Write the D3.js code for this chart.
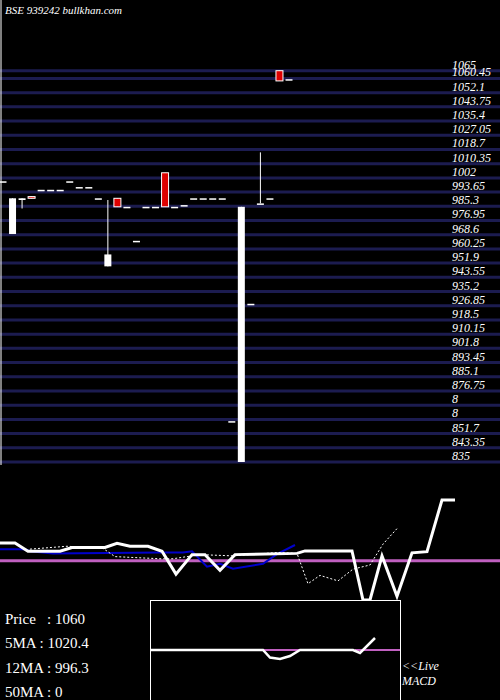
<!DOCTYPE html><html><head><meta charset="utf-8">
<script src="https://cdn.jsdelivr.net/npm/d3@7"></script>
<style>body{margin:0;background:#000}svg{display:block}</style></head><body>
<script>
const tickLabels=["1065","1060.45","1052.1","1043.75","1035.4","1027.05","1018.7","1010.35","1002","993.65","985.3","976.95","968.6","960.25","951.9","943.55","935.2","926.85","918.5","910.15","901.8","893.45","885.1","876.75","8","8","851.7","843.35","835"];
const tickValues=[1065,1060.45,1052.1,1043.75,1035.4,1027.05,1018.7,1010.35,1002,993.65,985.3,976.95,968.6,960.25,951.9,943.55,935.2,926.85,918.5,910.15,901.8,893.45,885.1,876.75,868.4,860.05,851.7,843.35,835];
const opens =[1000,990,990,990,995,995,995,1000,996.6,996.6,990,957,985,985,965,985,985,985,985,986,990,990,990,990,859,985,928,987,990,1059,1060];
const highs =[1000,990,990,991,995,995,995,1000,996.6,996.6,990,989,990,985,965,985,985,1005,985,986,990,990,990,990,859,985,928,1017,990,1065,1060];
const lows  =[1000,969,984,990,995,995,995,1000,996.6,996.6,990,950,985,985,965,985,985,985,985,986,990,990,990,990,859,835,928,987,990,1059,1060];
const closes=[1000,969,989,991,995,995,995,1000,996.6,996.6,990,950,990,985,965,985,985,1005,985,986,990,990,990,990,859,835,928,987,990,1065,1060];
const priceLine=[[0,45.7],[15,45.7],[28,39],[60,39],[72,42],[105,42],[117,45.3],[130,43],[148,43],[162,39],[176,20.7],[192,36.3],[205,36.3],[220,23.7],[235,36.3],[297,37.3],[305,39.3],[352,39.3],[363,0],[370,0],[382,35.3],[397,3],[412,37.7],[427,38.7],[442,80],[455,80]];
const blueLine=[[0,40.7],[25,40.7],[30,39],[53,37.3],[160,38],[183,38],[192,39],[207,26.7],[220,29],[233,25],[263,29],[277,36.7],[295,44]];
const dotLine=[[30,40.7],[67,43],[103,41.3],[115,34.7],[160,33],[173,33],[200,36.3],[233,35.3],[277,38],[297,37.3],[308,13],[320,19.7],[338,15.3],[353,24.7],[370,28],[383,44.7],[398,58]];
const macdLine=[[150,0],[263,0],[270,-2.5],[280,-3],[290,-2],[300,0],[353,0],[360,-1],[375,4]];
const summaryLabels=["Price   : 1060","5MA : 1020.4","12MA : 996.3","50MA : 0"];

const W=500,H=700;
const svg=d3.select("body").append("svg").attr("width",W).attr("height",H).style("background","#000");
const y=d3.scaleLinear().domain([835,1065]).range([462,70.7]);
const x=d3.scaleLinear().domain([0,30]).range([3,289]);
svg.append("g").selectAll("line").data(tickValues).join("line")
 .attr("x1",0).attr("x2",W).attr("y1",d=>y(d)).attr("y2",d=>y(d)).attr("stroke","#1c1c50").attr("stroke-width",3);
svg.append("g").selectAll("text").data(tickLabels).join("text")
 .attr("x",452).attr("y",(d,i)=>y(tickValues[i])-2).text(d=>d)
 .attr("fill","#fff").attr("font-family","Liberation Serif").attr("font-style","italic").attr("font-size",12);
svg.append("line").attr("x1",1).attr("x2",1).attr("y1",0).attr("y2",465).attr("stroke","#fff");
svg.append("text").attr("x",5).attr("y",14).text("BSE 939242 bullkhan.com").attr("fill","#fff")
 .attr("font-family","Liberation Serif").attr("font-style","italic").attr("font-size",11);
const idx=d3.range(opens.length);
const g=svg.append("g");
g.selectAll("line.w").data(idx).join("line").attr("x1",i=>x(i)).attr("x2",i=>x(i))
 .attr("y1",i=>y(highs[i])).attr("y2",i=>y(lows[i])).attr("stroke","#fff");
g.selectAll("rect").data(idx).join("rect")
 .attr("x",i=>x(i)-3.5).attr("width",7)
 .attr("y",i=>y(Math.max(opens[i],closes[i])))
 .attr("height",i=>Math.max(1.5,Math.abs(y(opens[i])-y(closes[i]))))
 .attr("fill",i=>closes[i]>opens[i]?"#d00":"#fff").attr("stroke","#fff").attr("stroke-width",i=>closes[i]>opens[i]?1:0);
const ly=d3.scaleLinear().domain([0,100]).range([600,475]);
const lx=d3.scaleLinear().domain([0,500]).range([0,500]);
const ln=d3.line().x(d=>lx(d[0])).y(d=>ly(d[1]));
svg.append("line").attr("x1",0).attr("x2",W).attr("y1",ly(31.5)).attr("y2",ly(31.5)).attr("stroke","#c060c0").attr("stroke-width",3);
svg.append("path").attr("d",ln(blueLine)).attr("fill","none").attr("stroke","#00c").attr("stroke-width",2);
svg.append("path").attr("d",ln(dotLine)).attr("fill","none").attr("stroke","#fff").attr("stroke-width",1).attr("stroke-dasharray","2,2");
svg.append("path").attr("d",ln(priceLine)).attr("fill","none").attr("stroke","#fff").attr("stroke-width",3);
svg.append("rect").attr("x",150.5).attr("y",600.5).attr("width",250).attr("height",100).attr("fill","#000").attr("stroke","#fff");
const my=d3.scaleLinear().domain([-10,10]).range([680,620]);
svg.append("line").attr("x1",262).attr("x2",300).attr("y1",my(0)).attr("y2",my(0)).attr("stroke","#c060c0").attr("stroke-width",2);
svg.append("line").attr("x1",355).attr("x2",400).attr("y1",my(0)).attr("y2",my(0)).attr("stroke","#c060c0").attr("stroke-width",2);
svg.append("path").attr("d",d3.line().x(d=>d[0]).y(d=>my(d[1]))(macdLine)).attr("fill","none").attr("stroke","#fff").attr("stroke-width",2.5);
svg.append("g").selectAll("text").data(summaryLabels).join("text")
 .attr("x",5).attr("y",(d,i)=>624+i*24.3).text(d=>d).attr("fill","#fff")
 .attr("font-family","Liberation Serif").attr("font-size",15).attr("xml:space","preserve");
svg.append("text").attr("x",402).attr("y",670).text("<<Live").attr("fill","#fff").attr("font-family","Liberation Serif").attr("font-style","italic").attr("font-size",12);
svg.append("text").attr("x",402).attr("y",685).text("MACD").attr("fill","#fff").attr("font-family","Liberation Serif").attr("font-style","italic").attr("font-size",12);
</script></body></html>
